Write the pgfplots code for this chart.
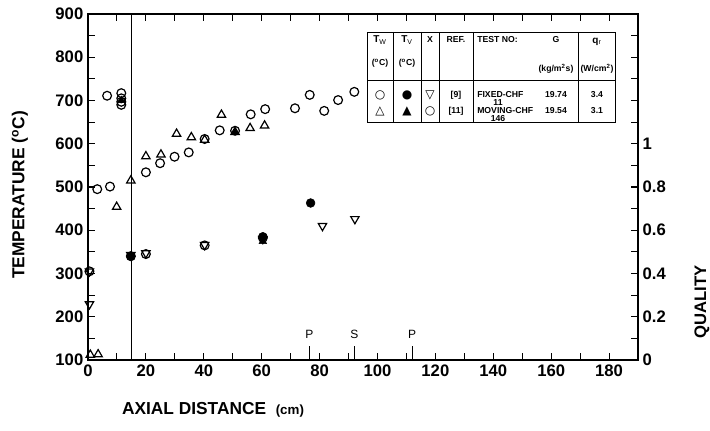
\documentclass[border=0pt]{standalone}
\usepackage{fontspec}
\setmainfont{Liberation Sans}
\newfontfamily\symfont{DejaVu Sans}
\usepackage{pgfplots}
\pgfplotsset{compat=1.18}
\begin{document}
\begin{tikzpicture}
\path[use as bounding box] (-66pt,-53.25pt) rectangle (466.5pt,270pt);
\begin{axis}[
  at={(0,0)}, anchor=south west,
  width=412.5pt, height=259.5pt, scale only axis,
  xmin=0, xmax=190, ymin=100, ymax=900,
  xtick={0,20,...,180}, minor xtick={10,30,...,190},
  ytick={100,200,...,900}, minor ytick={150,250,...,850},
  ytick pos=left, xtick pos=both,
  tick align=inside, major tick length=5pt, minor tick length=5pt,
  axis line style={line width=1pt}, every tick/.style={line width=0.8pt,black},
  tick label style={font=\bfseries\fontsize{12.5}{12}\selectfont},
  /pgf/number format/assume math mode=true,
  clip=false,
]
% T_W, ref [9]: open circles
\addplot[only marks, mark=o, mark size=3.3pt, mark options={line width=0.9pt}] coordinates {
(0.5,305) (3.2,495) (6.6,711) (7.6,501) (11.5,717) (11.5,705) (11.5,697) (11.5,690)
(20,534) (24.9,555) (29.9,570) (34.8,580) (40.3,611) (45.5,631) (50.8,630)
(56.2,668) (61.2,680) (71.5,682) (76.6,713) (81.6,676) (86.4,701) (92,720)};
% T_W, ref [11]: open triangles
\addplot[only marks, mark=triangle, mark size=3.6pt, mark options={line width=0.9pt}] coordinates {
(0.8,112) (3.5,113) (9.9,454) (14.8,515) (20,571) (25.2,575) (30.6,623) (35.7,615)
(40.3,609) (46.1,667) (50.8,627) (56,636) (61,642)};
% T_V, ref [9]: filled circles
\addplot[only marks, mark=*, mark size=3.3pt] coordinates {
(76.9,463) (60.4,385) (14.8,340)};
% T_V, ref [11]: filled triangles
\addplot[only marks, mark=triangle*, mark size=3.3pt] coordinates {
(60.4,374) (50.8,626) (11.5,700)};
\draw[line width=0.9pt] (axis cs:15,100) -- (axis cs:15,900);
\draw[line width=0.8pt] (axis cs:76.5,100) -- (axis cs:76.5,132);
\draw[line width=0.8pt] (axis cs:92,100) -- (axis cs:92,132);
\draw[line width=0.8pt] (axis cs:112,100) -- (axis cs:112,132);
\node[font=\fontsize{9}{9}\selectfont] at (axis cs:76.5,160) {P};
\node[font=\fontsize{9}{9}\selectfont] at (axis cs:92,160) {S};
\node[font=\fontsize{9}{9}\selectfont] at (axis cs:112,160) {P};
\end{axis}
\begin{axis}[
  at={(0,0)}, anchor=south west,
  width=412.5pt, height=259.5pt, scale only axis,
  xmin=0, xmax=190, ymin=0, ymax=1.6,
  axis x line=none, axis y line*=right,
  ytick={0,0.2,...,1}, minor ytick={0.1,0.3,0.5,0.7,0.9,1.1,1.2,1.3,1.4,1.5},
  tick align=inside, major tick length=5pt, minor tick length=5pt,
  axis line style={line width=1pt}, every tick/.style={line width=0.8pt,black},
  tick label style={font=\bfseries\fontsize{12.5}{12}\selectfont},
  yticklabel style={/pgf/number format/fixed, /pgf/number format/precision=1},
  /pgf/number format/assume math mode=true,
  clip=false,
]
% X, ref [9]: inverted open triangles
\addplot[only marks, mark=triangle, mark size=3.6pt, mark options={line width=0.9pt, rotate=180}] coordinates {
(0.5,0.258) (0.5,0.41) (14.8,0.486) (20,0.494) (40.3,0.532) (60.4,0.56) (81,0.62) (92.2,0.652)};
% X, ref [11]: open circles
\addplot[only marks, mark=o, mark size=3.3pt, mark options={line width=0.9pt}] coordinates {
(14.8,0.48) (20,0.49) (40.3,0.53) (60.4,0.565)};
\end{axis}
\begin{scope}[shift={(-66pt,270pt)}, x=0.75pt, y=-0.75pt]
\node[rotate=90, font=\bfseries\fontsize{13}{13}\selectfont] at (20,195) {TEMPERATURE (\textsuperscript{o}C)};
\node[rotate=90, font=\bfseries\fontsize{12.5}{13}\selectfont] at (702,302) {QUALITY};
\node[font=\bfseries\fontsize{13}{13}\selectfont] at (213,410) {AXIAL DISTANCE\ \ {\fontsize{10}{11}\selectfont(cm)}};
% legend table
\draw[line width=0.6pt] (367,32) rectangle (615,122);
\draw[line width=0.5pt] (367,80) -- (615,80);
\foreach \xx in {393,421,439,473,578} \draw[line width=0.5pt] (\xx,32) -- (\xx,122);
\begin{scope}[every node/.style={font=\bfseries\fontsize{6.5}{7}\selectfont, inner sep=0pt}]
\node[font=\bfseries\fontsize{7.5}{8}\selectfont] at (380,40) {T$_{\mathrm{W}}$};
\node[font=\bfseries\fontsize{7.5}{8}\selectfont] at (407,40) {T$_{\mathrm{V}}$};
\node at (430,40) {X};
\node at (456,40) {REF.};
\node[anchor=west] at (477,40) {TEST NO:};
\node at (556,40) {G};
\node[font=\bfseries\fontsize{7.5}{8}\selectfont] at (597,42) {q$_{\mathrm{r}}$};
\node at (380,63) {(\textsuperscript{o}C)};
\node at (407,63) {(\textsuperscript{o}C)};
\node at (556,69) {(kg/m\textsuperscript{2}s)};
\node at (597,69) {(W/cm\textsuperscript{2})};
\node[font=\symfont\fontsize{9}{9}\selectfont] at (380,95) {○};
\node[font=\symfont\fontsize{9}{9}\selectfont] at (407,95) {●};
\node[font=\symfont\fontsize{9}{9}\selectfont] at (430,95) {▽};
\node at (456,95) {[9]};
\node[anchor=west] at (477,95) {FIXED-CHF};
\node at (498,103) {11};
\node at (556,95) {19.74};
\node at (597,95) {3.4};
\node[font=\symfont\fontsize{9}{9}\selectfont] at (380,111) {△};
\node[font=\symfont\fontsize{9}{9}\selectfont] at (407,111) {▲};
\node[font=\symfont\fontsize{9}{9}\selectfont] at (430,111) {○};
\node at (456,111) {[11]};
\node[anchor=west] at (477,111) {MOVING-CHF};
\node at (498,119) {146};
\node at (556,111) {19.54};
\node at (597,111) {3.1};
\end{scope}
\end{scope}
\end{tikzpicture}
\end{document}
